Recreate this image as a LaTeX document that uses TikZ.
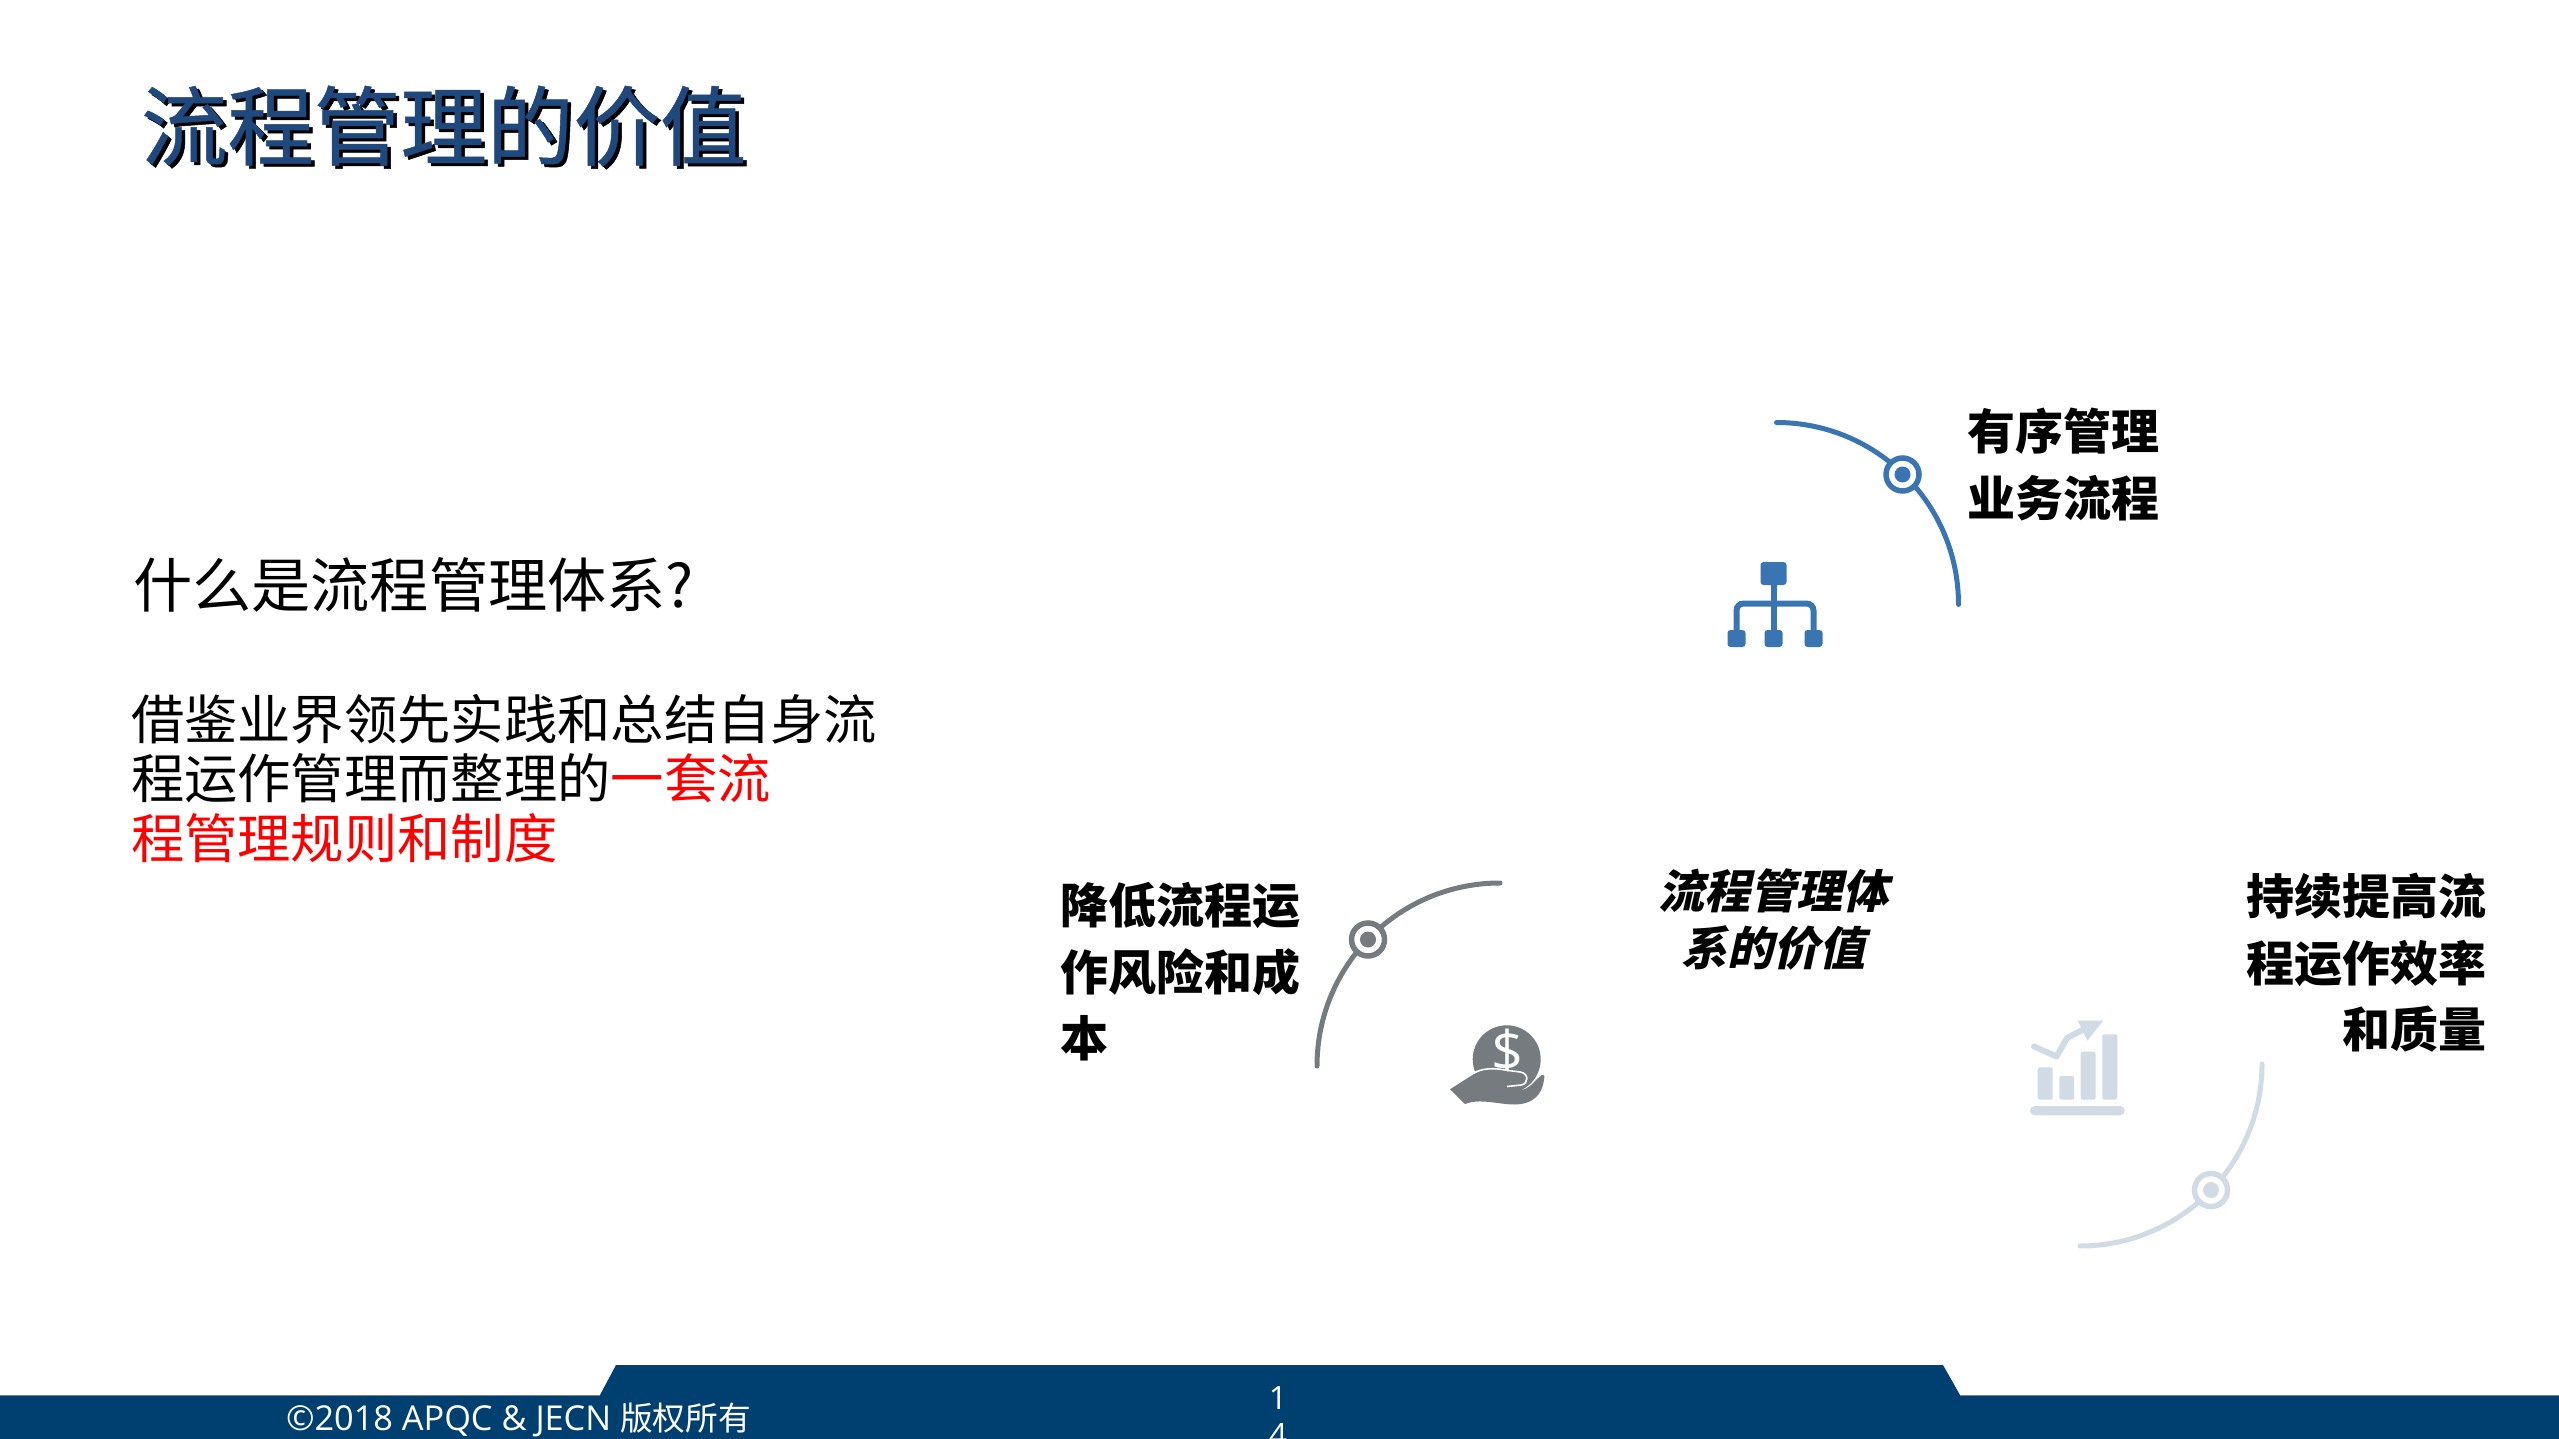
\documentclass[tikz,border=0pt]{standalone}
\usepackage{fontspec}
\setmainfont{Noto Sans CJK SC}
\newfontfamily\latinfont{Open Sans}
\newfontfamily\titlefont[FakeBold=0.6]{Noto Sans CJK SC}
\definecolor{bluearc}{HTML}{3A75B3}
\definecolor{greyarc}{HTML}{767B80}
\definecolor{palearc}{HTML}{D0DBE6}
\definecolor{barblue}{HTML}{004070}
\definecolor{titleblue}{HTML}{1F497D}
\newcommand{\fsz}[2]{\fontsize{#1}{#2}\selectfont}
\tikzset{
  txt/.style={inner sep=0pt,outer sep=0pt,align=left},
  label/.style={txt,font=\bfseries\fsz{48}{66.5},text=black},
  centrelabel/.style={txt,anchor=center,font=\bfseries\fsz{46}{57},xslant=0.22},
  arcline/.style={line width=5pt,line cap=round},
  ring/.style={draw=#1,line width=5.5pt,fill=white,circle,minimum size=33pt,inner sep=0pt,outer sep=0pt},
  bullet/.style={fill=#1,circle,minimum size=16pt,inner sep=0pt,outer sep=0pt}
}
\begin{document}
\begin{tikzpicture}[x=1pt,y=-1pt]
\useasboundingbox (0,0) rectangle (2559,1439);
\begin{scope}
\clip (0,0) rectangle (2559,1439);
% footer
\fill[barblue] (0,1395) -- (600,1395) -- (616,1365) -- (1943,1365) -- (1960,1395) -- (2559,1395) -- (2559,1439) -- (0,1439) -- cycle;
\draw[gray,line width=1pt] (0,1395) -- (600,1395) (1960,1395) -- (2559,1395);
\node[txt,anchor=west,text=white,font=\latinfont\fsz{34.3}{40}] (copy) at (286,1419.5) {©2018 APQC \& JECN {\normalfont\fsz{32.7}{40}版权所有}};
\node[txt,anchor=north,align=center,text=white,font=\latinfont\fsz{32}{37}] (pageno) at (1278,1387) {1\\4};
% title
\node[txt,anchor=west,text=black,font=\titlefont\fsz{86.5}{85}] (titleshadow) at (144.5,129) {流程管理的价值};
\node[txt,anchor=west,text=titleblue,font=\titlefont\fsz{86.5}{85}] (title) at (141,126) {流程管理的价值};
% left text
\node[txt,anchor=west,font=\fsz{59.2}{59}] (question) at (133,584.5) {什么是流程管理体系?};
\node[txt,anchor=north west,font=\fsz{53.3}{59.5}] (body) at (131,694) {借鉴业界领先实践和总结自身流\\程运作管理而整理的\textcolor{red}{一套流}\\\textcolor{red}{程管理规则和制度}};
% centre
\node[centrelabel] (centreA) at (1777,891) {流程管理体};
\node[centrelabel] (centreB) at (1777.5,948) {系的价值};
% labels
\node[label,anchor=west] (toplabel) at (1967,464.5) {有序管理\\业务流程};
\node[label,anchor=west] (leftlabel) at (1060,972) {降低流程运\\作风险和成\\本};
\node[label,anchor=east,align=right] (rightlabel) at (2486,963) {持续提高流\\程运作效率\\和质量};
% top arc
\draw[arcline,bluearc] (1776.5,422.5) arc[start angle=-90,end angle=0,radius=182];
\node[ring=bluearc] (ringA) at (1902.5,474.5) {};
\node[bullet=bluearc] (dotA) at (ringA) {};
% org icon
\fill[bluearc,rounded corners=3pt] (1760.5,562) rectangle (1786.5,585);
\draw[bluearc,line width=6pt] (1773.5,585) -- (1773.5,634);
\draw[bluearc,line width=6pt,rounded corners=7pt] (1736.5,634) -- (1736.5,603.5) -- (1813.5,603.5) -- (1813.5,634);
\fill[bluearc,rounded corners=3pt] (1727.5,630) rectangle (1745.5,647);
\fill[bluearc,rounded corners=3pt] (1764.5,630) rectangle (1782.5,647);
\fill[bluearc,rounded corners=3pt] (1804.5,630) rectangle (1822.5,647);
% left arc
\draw[arcline,greyarc] (1500,883) arc[start angle=-90,end angle=-180,radius=183];
\node[ring=greyarc] (ringB) at (1368,939.5) {};
\node[bullet=greyarc] (dotB) at (ringB) {};
% dollar icon
\fill[greyarc] (1506.7,1059.3) circle[radius=34];
\node[txt,text=white,font=\latinfont\fsz{56}{56}] (dollar) at (1507,1052) {\$};
\fill[greyarc] (1450,1089.3) -- (1474,1074) .. controls (1482,1069) and (1495,1069) .. (1505,1071) -- (1520,1073) .. controls (1527,1074) and (1527,1083) .. (1520,1084) -- (1506.7,1086)
  .. controls (1512,1090) and (1519,1091) .. (1525,1089) .. controls (1532,1086) and (1536,1079) .. (1541.7,1075) .. controls (1545,1074) and (1545,1078) .. (1544,1080)
  .. controls (1542,1094) and (1534,1104) .. (1515,1104.5) .. controls (1498,1104.5) and (1480,1098) .. (1465,1104) -- cycle;
\draw[white,line width=1.6pt] (1474,1073) .. controls (1482,1068) and (1495,1068) .. (1505,1070) -- (1520,1072) .. controls (1529,1073) and (1529,1084) .. (1521,1085) -- (1507,1086.5);
% right arc
\draw[arcline,palearc] (2262,1064) arc[start angle=0,end angle=90,radius=182];
\node[ring=palearc] (ringC) at (2211,1190) {};
\node[bullet=palearc] (dotC) at (ringC) {};
% chart icon
\fill[palearc,rounded corners=2pt] (2037.7,1067.3) rectangle (2052.7,1099.5);
\fill[palearc,rounded corners=2pt] (2059.3,1076) rectangle (2074,1099.5);
\fill[palearc,rounded corners=2pt] (2080.7,1051.7) rectangle (2095.7,1099.5);
\fill[palearc,rounded corners=2pt] (2102.3,1034.3) rectangle (2117.3,1099.5);
\fill[palearc,rounded corners=4.5pt] (2030,1106) rectangle (2124.7,1115.3);
\draw[palearc,line width=6pt,line cap=round,line join=round] (2034,1046.5) -- (2056.5,1056.5) -- (2067,1038) -- (2090,1026);
\fill[palearc] (2077.7,1020.7) -- (2103.3,1020.7) -- (2087.3,1040.7) -- cycle;
\end{scope}
\end{tikzpicture}
\end{document}
